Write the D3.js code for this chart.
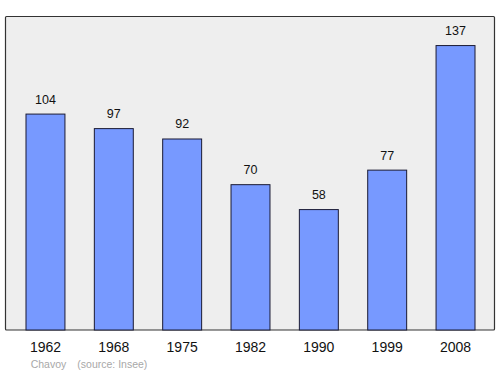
<!DOCTYPE html>
<html><head><meta charset="utf-8">
<script src="https://cdn.jsdelivr.net/npm/d3@7"></script>
<style>body{margin:0;background:#fff}svg{display:block}</style>
</head><body>
<svg id="c" width="500" height="374"></svg>
<script>
const years = ["1962","1968","1975","1982","1990","1999","2008"];
const population = [104, 97, 92, 70, 58, 77, 137];
const captionName = "Chavoy";
const captionSource = "(source: Insee)";

const svg = d3.select("#c");
const font = "'Liberation Sans', Arial, sans-serif";
const plot = {x0: 5.5, y0: 16.5, x1: 494.5, y1: 330};

svg.append("rect").attr("x", plot.x0).attr("y", plot.y0)
  .attr("width", plot.x1 - plot.x0).attr("height", plot.y1 - plot.y0)
  .attr("fill", "#eeeeee").attr("stroke", "#333").attr("stroke-width", 1.2).attr("rx", 1);

const x = d3.scaleBand().domain(years).range([11.3, 489.7]).paddingInner(0.43).paddingOuter(0.215);
const y = d3.scaleLinear().domain([0, 151]).range([plot.y1, plot.y0]);

const g = svg.append("g");
g.selectAll("rect.bar").data(years).join("rect").attr("class", "bar")
  .attr("x", d => x(d)).attr("width", x.bandwidth())
  .attr("y", (d, i) => y(population[i])).attr("height", (d, i) => plot.y1 - y(population[i]))
  .attr("fill", "#7799ff").attr("stroke", "#1a1a33").attr("stroke-width", 1);

g.selectAll("text.val").data(years).join("text").attr("class", "val")
  .attr("x", d => x(d) + x.bandwidth() / 2).attr("y", (d, i) => y(population[i]) - 10.5)
  .attr("text-anchor", "middle").attr("font-family", font).attr("font-size", 12.5).attr("fill", "#111")
  .text((d, i) => population[i]);

const axis = d3.axisBottom(x).tickSize(0).tickPadding(0);
const ax = svg.append("g").attr("transform", `translate(0,${plot.y1})`).call(axis);
ax.select(".domain").remove();
ax.selectAll("text").attr("font-family", font).attr("font-size", 14).attr("fill", "#111")
  .attr("dy", null).attr("y", 21.7);

svg.append("text").attr("x", 30.7).attr("y", 368).attr("font-family", font).attr("font-size", 10.5)
  .attr("fill", "#a8a8a8").text(captionName);
svg.append("text").attr("x", 77.3).attr("y", 368).attr("font-family", font).attr("font-size", 10.5)
  .attr("fill", "#a8a8a8").text(captionSource);
</script>
</body></html>
